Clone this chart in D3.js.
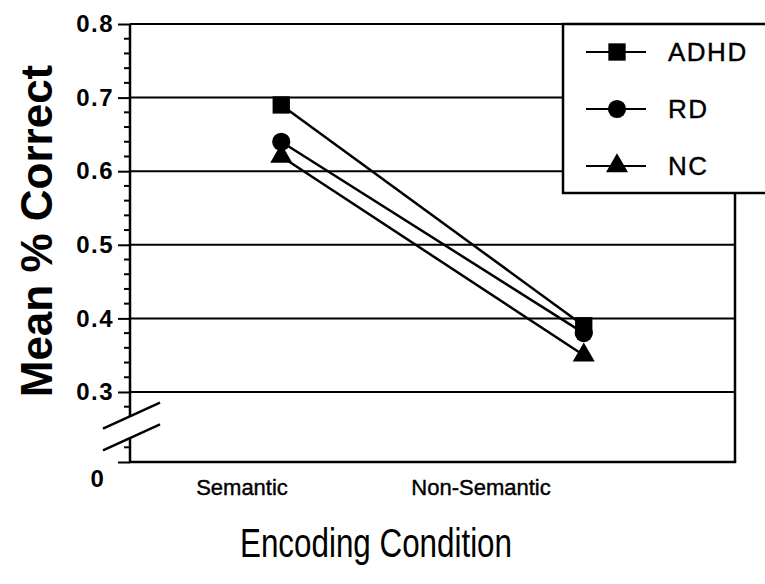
<!DOCTYPE html>
<html>
<head>
<meta charset="utf-8">
<script src="https://cdn.jsdelivr.net/npm/d3@7"></script>
<style>
  html, body { margin: 0; padding: 0; background: #fff; }
  svg { display: block; }
  text { font-family: "Liberation Sans", Arial, Helvetica, sans-serif; fill: #000; }
</style>
</head>
<body>
<svg id="chart" width="765" height="584"></svg>
<script>
// ---- Data ----
const categories = ["Semantic", "Non-Semantic"];
const groups = ["ADHD", "RD", "NC"];
const symbols = ["square", "circle", "triangle"];
const adhdValues = [0.69, 0.39];
const rdValues = [0.64, 0.38];
const ncValues = [0.62, 0.35];
const yMajorTicks = [0, 0.3, 0.4, 0.5, 0.6, 0.7, 0.8];
const yTickLabels = ["0", "0.3", "0.4", "0.5", "0.6", "0.7", "0.8"];
const yMinorTicks = [0.02, 0.28, 0.32, 0.34, 0.36, 0.38, 0.42, 0.44, 0.46, 0.48,
  0.52, 0.54, 0.56, 0.58, 0.62, 0.64, 0.66, 0.68, 0.72, 0.74, 0.76, 0.78];
const gridValues = [0.3, 0.4, 0.5, 0.6, 0.7, 0.8];
const breakRange = [0.08, 0.22];
const seriesValues = [adhdValues, rdValues, ncValues];

// ---- Layout ----
const svg = d3.select("#chart");
const mLeft = 130, mRight = 735, mTop = 24, mBottom = 462;

// broken axis: 0 .. 0.02 and 0.28 .. 0.8 at normal density, gap compressed
const y = d3.scaleLinear()
  .domain([0, 0.02, 0.28, 0.8])
  .range([mBottom, mBottom - 14.7, mTop + 382.7, mTop]);

const x = d3.scalePoint().domain(categories).range([mLeft, mRight]).padding(0.5);
const xLabel = d3.scalePoint().domain(categories).range([242, 481]);

const black = "#000";

// gridlines
svg.append("g").selectAll("line").data(gridValues).join("line")
  .attr("x1", mLeft).attr("x2", mRight)
  .attr("y1", d => y(d)).attr("y2", d => y(d))
  .attr("stroke", black).attr("stroke-width", 2);

// right border & bottom axis
svg.append("line").attr("x1", mRight).attr("x2", mRight)
  .attr("y1", y(0.8)).attr("y2", y(0))
  .attr("stroke", black).attr("stroke-width", 2.5);
svg.append("line").attr("x1", mLeft - 1).attr("x2", mRight + 1.2)
  .attr("y1", y(0)).attr("y2", y(0))
  .attr("stroke", black).attr("stroke-width", 2.5);

// y axis (broken)
const yAxis = d3.axisLeft(y)
  .tickValues(yMajorTicks)
  .tickSize(12)
  .tickPadding(4)
  .tickFormat((d, i) => yTickLabels[i]);
const gY = svg.append("g").attr("transform", `translate(${mLeft},0)`).call(yAxis);
gY.select(".domain").remove();
gY.selectAll(".tick line").attr("stroke", black).attr("stroke-width", 2);
gY.selectAll(".tick text")
  .style("font-size", "24px").style("font-weight", "bold")
  .style("letter-spacing", "1.5px")
  .attr("fill", black);
gY.selectAll(".tick").filter(d => d === 0).select("text")
  .attr("x", -32).attr("dy", "1.0em").attr("text-anchor", "middle");

// minor ticks
svg.append("g").selectAll("line").data(yMinorTicks).join("line")
  .attr("x1", mLeft - 6).attr("x2", mLeft)
  .attr("y1", d => y(d)).attr("y2", d => y(d))
  .attr("stroke", black).attr("stroke-width", 2);

// axis line segments
svg.append("line").attr("x1", mLeft).attr("x2", mLeft)
  .attr("y1", y(0.8)).attr("y2", y(breakRange[1]))
  .attr("stroke", black).attr("stroke-width", 2.5);
svg.append("line").attr("x1", mLeft).attr("x2", mLeft)
  .attr("y1", y(breakRange[0])).attr("y2", y(0))
  .attr("stroke", black).attr("stroke-width", 2.5);

// break slashes
breakRange.forEach(v => {
  const yb = y(v);
  svg.append("line")
    .attr("x1", mLeft - 27).attr("y1", yb + 12.5)
    .attr("x2", mLeft + 30).attr("y2", yb - 13.5)
    .attr("stroke", black).attr("stroke-width", 2.5);
});

// x tick labels
svg.append("g").selectAll("text").data(categories).join("text")
  .attr("x", d => xLabel(d)).attr("y", 495)
  .attr("text-anchor", "middle")
  .style("font-size", "22px")
  .style("stroke", black).style("stroke-width", 0.4)
  .text(d => d);

// axis titles
svg.append("text")
  .attr("transform", `translate(52,${(mTop + mBottom) / 2 - 12}) rotate(-90)`)
  .attr("text-anchor", "middle")
  .style("font-size", "44px").style("font-weight", "bold")
  .text("Mean % Correct");

svg.append("text")
  .attr("x", 376).attr("y", 557)
  .attr("text-anchor", "middle")
  .attr("textLength", 272).attr("lengthAdjust", "spacingAndGlyphs")
  .style("font-size", "40px")
  .text("Encoding Condition");

// symbols
const symType = { square: d3.symbolSquare, circle: d3.symbolCircle, triangle: d3.symbolTriangle };
const symSize = { square: 300, circle: 260, triangle: 210 };

// series lines
const line = d3.line().x((d, i) => x(categories[i])).y(d => y(d));
svg.append("g").selectAll("path").data(seriesValues).join("path")
  .attr("d", d => line(d))
  .attr("fill", "none").attr("stroke", black).attr("stroke-width", 2.5);

// markers
seriesValues.forEach((vals, si) => {
  const s = symbols[si];
  svg.append("g").selectAll("path").data(vals).join("path")
    .attr("transform", (d, i) => `translate(${x(categories[i])},${y(d)})`)
    .attr("d", d3.symbol().type(symType[s]).size(symSize[s])())
    .attr("fill", black);
});

// legend
const legend = svg.append("g");
legend.append("rect")
  .attr("x", 563).attr("y", mTop).attr("width", 230).attr("height", 169)
  .attr("fill", "#fff").attr("stroke", black).attr("stroke-width", 2.5);
const legendY = d3.scalePoint().domain(groups).range([52, 166]);
groups.forEach((g, i) => {
  const cy = legendY(g);
  legend.append("line").attr("x1", 586).attr("x2", 646)
    .attr("y1", cy).attr("y2", cy)
    .attr("stroke", black).attr("stroke-width", 2);
  legend.append("path")
    .attr("transform", `translate(617,${cy})`)
    .attr("d", d3.symbol().type(symType[symbols[i]]).size(symSize[symbols[i]])())
    .attr("fill", black);
  legend.append("text")
    .attr("x", 668).attr("y", cy + 9)
    .style("font-size", "26px")
    .style("letter-spacing", "1.5px")
    .style("stroke", black).style("stroke-width", 0.4)
    .text(g);
});
</script>
</body>
</html>
